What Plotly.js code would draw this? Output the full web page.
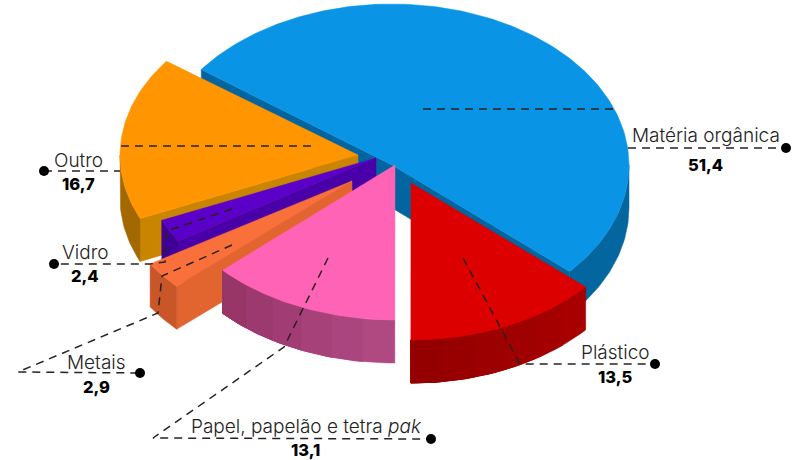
<!DOCTYPE html>
<html><head><meta charset="utf-8">
<script src="https://cdn.plot.ly/plotly-3.0.1.min.js"></script>
<style>html,body{margin:0;padding:0;background:#fff}#c{width:794px;height:460px}</style>
</head><body><div id="c"></div>
<script>
// data
const categories = ["Matéria orgânica","Plástico","Papel, papelão e tetra <i>pak</i>","Metais","Vidro","Outro"];
const values = [51.4,13.5,13.1,2.9,2.4,16.7];
const valueLabels = ["51,4","13,5","13,1","2,9","2,4","16,7"];

// 3D projection of the exploded pie (one entry per slice)
const startAngle = -53.6, depth = 43;
const apexX = [392,411,395,352,376,358];
const apexY = [165,183,165,181,158,155];
const radX  = [237,233,235,239,234,238];
const radY  = [161,157,155,155,155,158];
const drawOrder = [0,5,4,3,2,1];
const topColors  = ["#0a94e6","#dc0000","#ff63b5","#fa703a","#5a00c8","#ff9500"];
const faceColors = ["#03659f","#a00000","#b0487f","#e2642f","#4a00a8","#c98500"];
const rimColors  = [["#03669f"],["#a80000","#a40000","#a00000","#9c0000","#980000","#940000"],["#b04882","#ab4580","#a6417a","#a13d74","#9c396e","#983668"],["#c85628"],["#3f0095"],["#a46800"]];

// leader lines, label anchors
const leaders = [
  [[423,615],[109,109]],[[628,786],[148,148]],
  [[463,520,655],[258,364,364]],
  [[328,284,153,431],[258,347,438,439]],
  [[232,172,162,158,18,140],[245,272,276,313,372,373]],
  [[232,177,167,165,150,54],[209,228,231,262,264,264]],
  [[121,315],[146,146]],[[44,120],[171,171]]
];
const dotX = [786,655,431,140,54,44], dotY = [148,364,439,373,264,171];
const nameX = [706,615,306,96,85,78], nameY = [135,352,426,362,252,160];
const valX  = [705,615,305,96,85,78], valY  = [165,377,450,387,276,184];

const rad = d => d*Math.PI/180;
const total = values.reduce((a,b)=>a+b,0);
let acc = startAngle;
const t1 = [], t2 = [];
values.forEach(v => { t1.push(acc); acc += v/total*360; t2.push(acc); });
const px = (i,t) => apexX[i]+radX[i]*Math.sin(rad(t));
const py = (i,t) => apexY[i]-radY[i]*Math.cos(rad(t));
const arc = (i,a,b,off=0) => {
  const xs=[],ys=[],n=Math.max(2,Math.ceil(Math.abs(b-a)));
  for(let k=0;k<=n;k++){const t=a+(b-a)*k/n;xs.push(px(i,t));ys.push(py(i,t)+off);}
  return [xs,ys];
};
const poly = (xs,ys,color)=>({type:'scatter',mode:'lines',x:xs.concat(xs[0]),y:ys.concat(ys[0]),fill:'toself',fillcolor:color,line:{width:0.5,color:color},hoverinfo:'skip',showlegend:false});
const traces=[];
drawOrder.forEach(i=>{
  const face=t=>poly([apexX[i],px(i,t),px(i,t),apexX[i]],[apexY[i],py(i,t),py(i,t)+depth,apexY[i]+depth],faceColors[i]);
  if(Math.sin(rad(t1[i]))<-0.01) traces.push(face(t1[i]));
  if(Math.sin(rad(t2[i]))>0.01) traces.push(face(t2[i]));
  const a=Math.max(t1[i],90), b=Math.min(t2[i],270);
  if(b>a){
    const n=rimColors[i].length;
    for(let k=0;k<n;k++){
      const s=a+(b-a)*k/n;
      const [x1,y1]=arc(i,s,b),[x2,y2]=arc(i,b,s,depth);
      traces.push(poly(x1.concat(x2),y1.concat(y2),rimColors[i][k]));
    }
  }
  const [xs,ys]=arc(i,t1[i],t2[i]);
  traces.push(poly([apexX[i]].concat(xs),[apexY[i]].concat(ys),topColors[i]));
});
leaders.forEach(l=>traces.push({type:'scatter',mode:'lines',x:l[0],y:l[1],line:{color:'#2a2020',width:1.5,dash:'8px,6px'},hoverinfo:'skip',showlegend:false}));
traces.push({type:'scatter',mode:'markers',x:dotX,y:dotY,marker:{color:'#000',size:10},hoverinfo:'skip',showlegend:false});

const fontFam='Inter, sans-serif';
const ann=[];
categories.forEach((c,i)=>{
  ann.push({x:nameX[i],y:nameY[i],text:c,showarrow:false,xref:'x',yref:'y',font:{family:fontFam,size:19,color:'#222',weight:300}});
  ann.push({x:valX[i],y:valY[i],text:valueLabels[i],showarrow:false,xref:'x',yref:'y',font:{family:fontFam,size:16.5,color:'#000',weight:800}});
});
Plotly.newPlot('c',traces,{
  width:794,height:460,margin:{l:0,r:0,t:0,b:0},paper_bgcolor:'#fff',plot_bgcolor:'#fff',showlegend:false,
  xaxis:{range:[0,794],visible:false,fixedrange:true},
  yaxis:{range:[460,0],visible:false,fixedrange:true},
  annotations:ann,hovermode:false
},{displayModeBar:false,staticPlot:true});
</script></body></html>
